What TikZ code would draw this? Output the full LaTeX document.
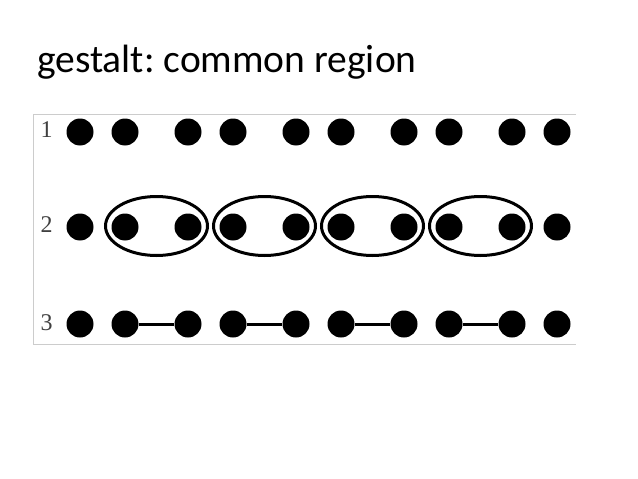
\documentclass[tikz,border=0pt]{standalone}
\usepackage{fontspec}
\newfontfamily\titlefont{Carlito}
\newfontfamily\labelfont{Liberation Serif}
\frenchspacing
\begin{document}
\begin{tikzpicture}[x=1pt,y=-1pt,
  dot/.style={circle,fill=black,inner sep=0pt,minimum size=27pt},
  rowlabel/.style={inner sep=0pt,text=black!75,font=\labelfont\fontsize{24}{24}\selectfont},
  grouping/.style={line width=3pt},
  link/.style={line width=3pt},
  frameline/.style={draw=black!20,line width=0.8pt}]
\useasboundingbox (0,0) rectangle (638,479);
\node[anchor=base west,inner sep=0pt,font=\titlefont\fontsize{39.5}{40}\selectfont] (title) at (37,72) {gestalt: common region};
\draw[frameline] (576,114) -- (33,114) -- (33,344) -- (576,344);
\node[rowlabel] (l1) at (46.5,130) {1};
\node[rowlabel] (l2) at (46.5,225) {2};
\node[rowlabel] (l3) at (46.5,323) {3};
\foreach \c/\x in {1/80,2/125,3/188,4/233,5/296,6/341,7/404,8/449,9/512,10/557}{
  \node[dot] (d1\c) at (\x,132) {};
  \node[dot] (d2\c) at (\x,227) {};
  \node[dot] (d3\c) at (\x,324) {};
}
\foreach \cx in {156.5,264.5,372.5,480.5}{
  \draw[grouping] (\cx,226) ellipse [x radius=51, y radius=29.5];
}
\draw[link] (d32) -- (d33);
\draw[link] (d34) -- (d35);
\draw[link] (d36) -- (d37);
\draw[link] (d38) -- (d39);
\end{tikzpicture}
\end{document}
